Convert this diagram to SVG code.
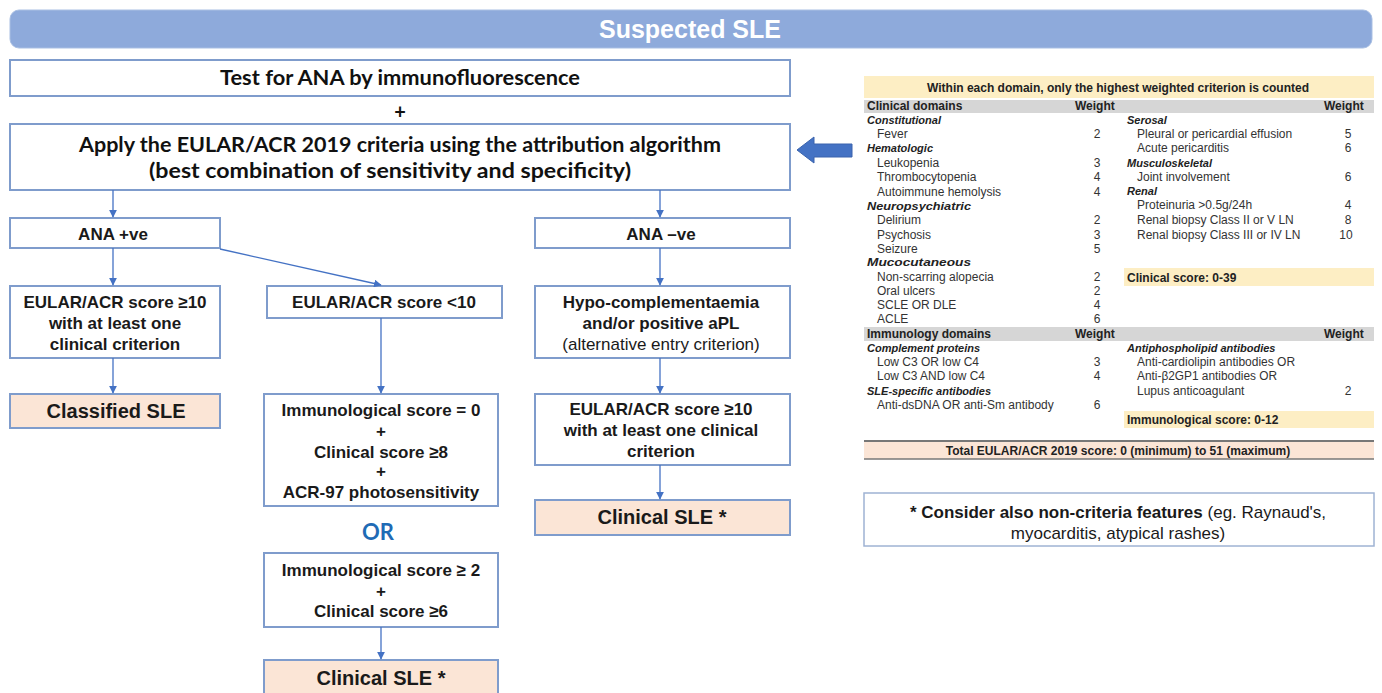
<svg xmlns="http://www.w3.org/2000/svg" width="1382" height="693" viewBox="0 0 1382 693">
<defs>
<marker id="ah" viewBox="0 0 10 10" refX="9" refY="5" markerWidth="6" markerHeight="6" orient="auto"><path d="M0,0 L10,5 L0,10 z" fill="#4472c4"/></marker>
<style>
.box{fill:#fff;stroke:#7f9ccc;stroke-width:2}
.res{fill:#fbe5d6;stroke:#7f9ccc;stroke-width:2}
.cal{font-family:Lato,"Open Sans",sans-serif;font-weight:bold;fill:#111;text-anchor:middle}
.t{font-family:"Liberation Sans",Arial,sans-serif;font-weight:bold;fill:#1a1a1a;text-anchor:middle;font-size:17px}
.tn{font-family:"Liberation Sans",Arial,sans-serif;fill:#1a1a1a;text-anchor:middle;font-size:17px}
.r{font-family:"Liberation Sans",Arial,sans-serif;font-weight:bold;fill:#1a1a1a;text-anchor:middle;font-size:20px}
.con{stroke:#4472c4;stroke-width:1.3;fill:none;marker-end:url(#ah)}
.tb{font-family:"Liberation Sans",Arial,sans-serif;fill:#333;font-size:12px}
.tbb{font-family:"Liberation Sans",Arial,sans-serif;fill:#222;font-size:12px;font-weight:bold}
.dom{font-family:"Liberation Sans",Arial,sans-serif;fill:#222;font-size:11px;font-weight:bold;font-style:italic}
.w{font-family:"Liberation Sans",Arial,sans-serif;fill:#333;font-size:12px;text-anchor:middle}
</style>
</defs>
<rect width="1382" height="693" fill="#fff"/>

<g id="header">
<rect x="10" y="10" width="1362" height="38" rx="9" fill="#8eaadb" stroke="#a9bfe3" stroke-width="1"/>
<text x="690" y="38" font-family="'Liberation Sans',Arial,sans-serif" font-weight="bold" font-size="25" fill="#fff" text-anchor="middle">Suspected SLE</text>
</g>

<g id="test-ana">
<rect class="box" x="10" y="60" width="780" height="36"/>
<text class="cal" x="400" y="85" font-size="20" textLength="360" lengthAdjust="spacingAndGlyphs">Test for ANA by immunofluorescence</text>
</g>
<text class="cal" x="400" y="119" font-size="20">+</text>

<g id="apply">
<rect class="box" x="10" y="124" width="780" height="66"/>
<text class="cal" x="400" y="152" font-size="20" textLength="642" lengthAdjust="spacingAndGlyphs">Apply the EULAR/ACR 2019 criteria using the attribution algorithm</text>
<text class="cal" x="390" y="178" font-size="20" textLength="482" lengthAdjust="spacingAndGlyphs">(best combination of sensitivity and specificity)</text>
</g>

<g id="ana-pos">
<rect class="box" x="10" y="218" width="210" height="30"/>
<text class="t" x="113" y="240" font-size="19">ANA +ve</text>
</g>
<g id="ana-neg">
<rect class="box" x="535" y="218" width="255" height="30"/>
<text class="t" x="661" y="240" font-size="19">ANA –ve</text>
</g>

<g id="eular-ge10">
<rect class="box" x="10" y="286" width="210" height="72"/>
<text class="t" x="115" y="308">EULAR/ACR score ≥10</text>
<text class="t" x="115" y="329">with at least one</text>
<text class="t" x="115" y="350">clinical criterion</text>
</g>
<g id="eular-lt10">
<rect class="box" x="267" y="286" width="235" height="32"/>
<text class="t" x="384" y="308">EULAR/ACR score &lt;10</text>
</g>
<g id="hypo">
<rect class="box" x="535" y="286" width="255" height="72"/>
<text class="t" x="661" y="308">Hypo-complementaemia</text>
<text class="t" x="661" y="329">and/or positive aPL</text>
<text class="tn" x="661" y="350">(alternative entry criterion)</text>
</g>

<g id="classified">
<rect class="res" x="10" y="394" width="210" height="34"/>
<text class="r" x="116" y="418">Classified SLE</text>
</g>

<g id="immuno0">
<rect class="box" x="264" y="394" width="234" height="112"/>
<text class="t" x="381" y="416">Immunological score = 0</text>
<text class="t" x="381" y="437">+</text>
<text class="t" x="381" y="458">Clinical score ≥8</text>
<text class="t" x="381" y="477">+</text>
<text class="t" x="381" y="498">ACR-97 photosensitivity</text>
</g>

<text x="378" y="540" font-family="Lato,'Open Sans',sans-serif" font-weight="bold" font-size="22" fill="#1f6bb5" text-anchor="middle">OR</text>

<g id="immuno2">
<rect class="box" x="264" y="553" width="234" height="74"/>
<text class="t" x="381" y="576">Immunological score ≥ 2</text>
<text class="t" x="381" y="597">+</text>
<text class="t" x="381" y="617">Clinical score ≥6</text>
</g>

<g id="clinical-left">
<rect class="res" x="264" y="660" width="234" height="40"/>
<text class="r" x="381" y="685">Clinical SLE *</text>
</g>

<g id="eular-ge10-neg">
<rect class="box" x="535" y="394" width="255" height="71"/>
<text class="t" x="661" y="415">EULAR/ACR score ≥10</text>
<text class="t" x="661" y="436">with at least one clinical</text>
<text class="t" x="661" y="457">criterion</text>
</g>

<g id="clinical-right">
<rect class="res" x="535" y="500" width="255" height="35"/>
<text class="r" x="662" y="524">Clinical SLE *</text>
</g>

<g id="connectors">
<line class="con" x1="113" y1="190" x2="113" y2="217"/>
<line class="con" x1="660" y1="190" x2="660" y2="217"/>
<line class="con" x1="113" y1="248" x2="113" y2="285"/>
<line class="con" x1="220" y1="249" x2="381" y2="285"/>
<line class="con" x1="660" y1="248" x2="660" y2="285"/>
<line class="con" x1="113" y1="358" x2="113" y2="393"/>
<line class="con" x1="381" y1="318" x2="381" y2="393"/>
<line class="con" x1="660" y1="358" x2="660" y2="393"/>
<line class="con" x1="660" y1="465" x2="660" y2="499"/>
<line class="con" x1="381" y1="627" x2="381" y2="659"/>
</g>

<g id="big-arrow">
<path d="M797,150 L814,137 L814,144 L852,144 L852,157 L814,157 L814,163 Z" fill="#4472c4" stroke="#3a63ad" stroke-width="1"/>
</g>

<g id="table">
<rect x="864" y="76" width="510" height="384" fill="#fff"/>
<rect x="864" y="76" width="510" height="22" fill="#fdeec4"/>
<text class="tbb" x="1118" y="92" text-anchor="middle" font-size="14">Within each domain, only the highest weighted criterion is counted</text>
<rect x="864" y="100" width="510" height="13" fill="#d6d6d6"/>
<text class="tbb" x="867" y="110" font-size="11.5">Clinical domains</text>
<text class="tbb" x="1075" y="110" font-size="11.5">Weight</text>
<text class="tbb" x="1324" y="110" font-size="11.5">Weight</text>

<text class="dom" x="867" y="124">Constitutional</text>
<text class="tb" x="877" y="138" font-size="11">Fever</text><text class="w" x="1097" y="138">2</text>
<text class="dom" x="867" y="152" font-size="12">Hematologic</text>
<text class="tb" x="877" y="167" font-size="14">Leukopenia</text><text class="w" x="1097" y="167">3</text>
<text class="tb" x="877" y="181" font-size="10.5">Thrombocytopenia</text><text class="w" x="1097" y="181">4</text>
<text class="tb" x="877" y="196" font-size="13.5">Autoimmune hemolysis</text><text class="w" x="1097" y="196">4</text>
<text class="dom" x="867" y="210" textLength="104" lengthAdjust="spacingAndGlyphs">Neuropsychiatric</text>
<text class="tb" x="877" y="224">Delirium</text><text class="w" x="1097" y="224">2</text>
<text class="tb" x="877" y="239">Psychosis</text><text class="w" x="1097" y="239">3</text>
<text class="tb" x="877" y="253">Seizure</text><text class="w" x="1097" y="253">5</text>
<text class="dom" x="867" y="266" textLength="104" lengthAdjust="spacingAndGlyphs">Mucocutaneous</text>
<text class="tb" x="877" y="281" font-size="13.5">Non-scarring alopecia</text><text class="w" x="1097" y="281">2</text>
<text class="tb" x="877" y="295" font-size="10">Oral ulcers</text><text class="w" x="1097" y="295">2</text>
<text class="tb" x="877" y="309" font-size="12.5">SCLE OR DLE</text><text class="w" x="1097" y="309">4</text>
<text class="tb" x="877" y="323" font-size="10">ACLE</text><text class="w" x="1097" y="323">6</text>

<text class="dom" x="1127" y="124">Serosal</text>
<text class="tb" x="1137" y="138" font-size="13">Pleural or pericardial effusion</text><text class="w" x="1348" y="138">5</text>
<text class="tb" x="1137" y="152" font-size="10">Acute pericarditis</text><text class="w" x="1348" y="152">6</text>
<text class="dom" x="1127" y="167" font-size="12">Musculoskeletal</text>
<text class="tb" x="1137" y="181" font-size="9.5">Joint involvement</text><text class="w" x="1348" y="181">6</text>
<text class="dom" x="1127" y="195" font-size="12">Renal</text>
<text class="tb" x="1137" y="209" font-size="10">Proteinuria &gt;0.5g/24h</text><text class="w" x="1348" y="209">4</text>
<text class="tb" x="1137" y="224" font-size="12.5">Renal biopsy Class II or V LN</text><text class="w" x="1348" y="224">8</text>
<text class="tb" x="1137" y="239" font-size="11">Renal biopsy Class III or IV LN</text><text class="w" x="1346" y="239">10</text>

<rect x="1124" y="268" width="250" height="18" fill="#fdeec4"/>
<text class="tbb" x="1127" y="282" font-size="13">Clinical score: 0-39</text>

<rect x="864" y="327" width="510" height="14" fill="#d6d6d6"/>
<text class="tbb" x="867" y="338" font-size="13.5">Immunology domains</text>
<text class="tbb" x="1075" y="338" font-size="12.5">Weight</text>
<text class="tbb" x="1324" y="338" font-size="11.5">Weight</text>

<text class="dom" x="867" y="352" font-size="12.5">Complement proteins</text>
<text class="tb" x="877" y="366" font-size="13">Low C3 OR low C4</text><text class="w" x="1097" y="366">3</text>
<text class="tb" x="877" y="380" font-size="10" textLength="108" lengthAdjust="spacingAndGlyphs">Low C3 AND low C4</text><text class="w" x="1097" y="380">4</text>
<text class="dom" x="867" y="395" font-size="14">SLE-specific antibodies</text>
<text class="tb" x="877" y="409" font-size="10.5">Anti-dsDNA OR anti-Sm antibody</text><text class="w" x="1097" y="409">6</text>

<text class="dom" x="1127" y="352" font-size="12">Antiphospholipid antibodies</text>
<text class="tb" x="1137" y="366" font-size="13.5">Anti-cardiolipin antibodies OR</text>
<text class="tb" x="1137" y="380" font-size="9" textLength="140" lengthAdjust="spacingAndGlyphs">Anti-β2GP1 antibodies OR</text>
<text class="tb" x="1137" y="395" font-size="12.5">Lupus anticoagulant</text><text class="w" x="1348" y="395">2</text>

<rect x="1124" y="411" width="250" height="17" fill="#fdeec4"/>
<text class="tbb" x="1127" y="424" font-size="13.5">Immunological score: 0-12</text>

<rect x="864" y="441" width="510" height="18" fill="#fbe5d6"/>
<line x1="864" y1="441" x2="1374" y2="441" stroke="#777" stroke-width="2"/>
<line x1="864" y1="459" x2="1374" y2="459" stroke="#777" stroke-width="1.5"/>
<text class="tbb" x="1118" y="455" text-anchor="middle" font-size="14">Total EULAR/ACR 2019 score: 0 (minimum) to 51 (maximum)</text>
</g>

<g id="footnote">
<rect x="864" y="493" width="510" height="53" fill="#fff" stroke="#9fb3d3" stroke-width="1.5"/>
<text x="1118" y="518" font-family="'Liberation Sans',Arial,sans-serif" font-size="17" fill="#1a1a1a" text-anchor="middle"><tspan font-weight="bold">* Consider also non-criteria features</tspan> (eg. Raynaud's,</text>
<text x="1118" y="539" font-family="'Liberation Sans',Arial,sans-serif" font-size="17" fill="#1a1a1a" text-anchor="middle">myocarditis, atypical rashes)</text>
</g>
</svg>
